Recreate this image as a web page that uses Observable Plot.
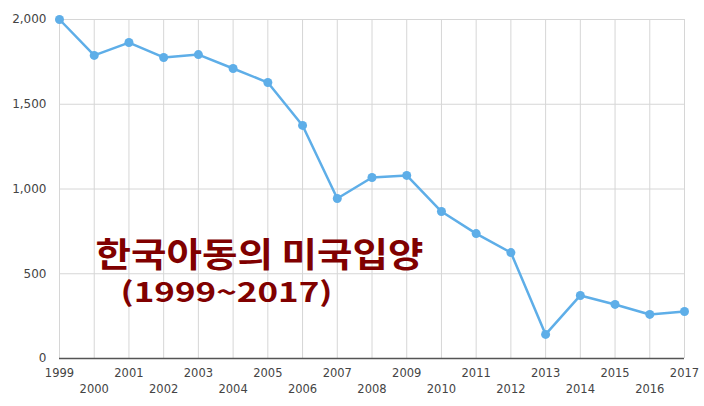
<!DOCTYPE html>
<html>
<head>
<meta charset="utf-8">
<script src="https://cdn.jsdelivr.net/npm/d3@7"></script>
<script src="https://cdn.jsdelivr.net/npm/@observablehq/plot@0.6"></script>
<style>
  body { margin: 0; background: #fff; }
  #chart svg { display: block; }
</style>
</head>
<body>
<div id="chart"></div>
<script>
const years = [1999,2000,2001,2002,2003,2004,2005,2006,2007,2008,2009,2010,2011,2012,2013,2014,2015,2016,2017];
const adoptions = [2000,1788,1864,1776,1793,1711,1628,1375,944,1068,1080,867,737,625,142,372,319,260,277];
const yTicks = [0,500,1000,1500,2000];
const oddYears = years.filter(y => y % 2 === 1);
const evenYears = years.filter(y => y % 2 === 0);
const titleLine1 = "한국아동의 미국입양";
const titleLine2 = "(1999~2017)";

const data = years.map((y, i) => ({year: y, value: adoptions[i]}));

const chart = Plot.plot({
  width: 704,
  height: 406,
  marginTop: 19,
  marginBottom: 48,
  marginLeft: 59,
  marginRight: 20,
  style: {fontFamily: "'DejaVu Sans', Verdana, sans-serif", fontSize: "11.5px", color: "#444", background: "#fff"},
  x: {domain: [1999, 2017]},
  y: {domain: [0, 2000]},
  marks: [
    Plot.ruleX(years, {stroke: "#d6d6d6", strokeWidth: 1}),
    Plot.ruleY(yTicks, {stroke: "#d6d6d6", strokeWidth: 1}),
    Plot.ruleY([0], {stroke: "#555", strokeWidth: 1.5}),
    Plot.axisY({ticks: yTicks, tickFormat: d3.format(","), tickSize: 0, tickPadding: 13, label: null, fontSize: 12}),
    Plot.axisX({ticks: oddYears, tickFormat: d => String(d), tickSize: 0, tickPadding: 10, label: null}),
    Plot.axisX({ticks: evenYears, tickFormat: d => String(d), tickSize: 0, tickPadding: 26, label: null}),
    Plot.line(data, {x: "year", y: "value", stroke: "#5eaee8", strokeWidth: 2.5}),
    Plot.dot(data, {x: "year", y: "value", fill: "#5eaee8", r: 4.5}),
    Plot.text([titleLine1 + "\n" + titleLine2], {text: d => d, frameAnchor: "top-left", dx: 36, dy: 247, textAnchor: "start",
      fill: "#800000", fontSize: 34, fontWeight: "bold", fontFamily: "'Noto Sans CJK KR', sans-serif"})
  ]
});

d3.select(chart).selectAll("tspan").each(function() {
  const t = this.textContent;
  if (t === titleLine1) {
    this.setAttribute("x", 0); this.setAttribute("y", 0); this.removeAttribute("dy");
    this.setAttribute("textLength", 328); this.setAttribute("lengthAdjust", "spacingAndGlyphs");
  }
  if (t === titleLine2) {
    this.setAttribute("x", 25); this.setAttribute("y", 35); this.removeAttribute("dy");
    this.setAttribute("font-size", 27);
    this.setAttribute("textLength", 212); this.setAttribute("lengthAdjust", "spacingAndGlyphs");
  }
});

document.getElementById("chart").appendChild(chart);
</script>
</body>
</html>
